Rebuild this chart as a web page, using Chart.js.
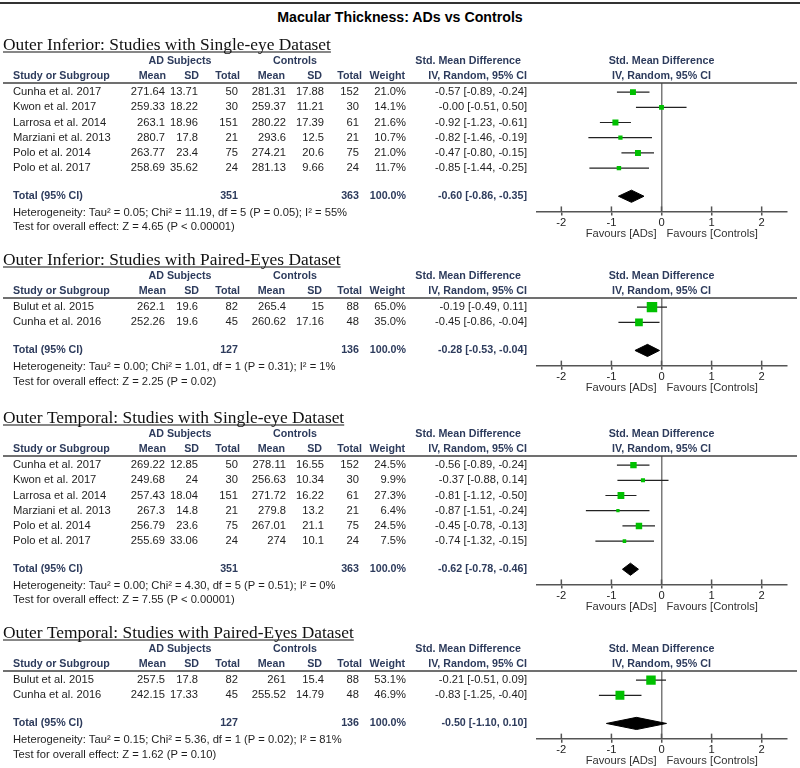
<!DOCTYPE html>
<html><head><meta charset="utf-8">
<script src="https://cdn.jsdelivr.net/npm/chart.js@4.4.1/dist/chart.umd.min.js"></script>
<style>
html,body{margin:0;padding:0;background:#fff;}
#wrap{position:relative;width:800px;height:768px;overflow:hidden;background:#fff;}
#wrap canvas{position:absolute;left:0;}
#topline{position:absolute;left:0;top:2px;width:800px;height:2px;background:#333;}
#title{position:absolute;left:0;top:9px;width:800px;text-align:center;font:bold 14.2px "Liberation Sans",Arial,sans-serif;line-height:16px;color:#000;}
</style></head><body>
<div id="wrap">
<div id="topline"></div>
<div id="title">Macular Thickness: ADs vs Controls</div>
<canvas id="c0" width="800" height="215" style="top:33px"></canvas>
<canvas id="c1" width="800" height="158" style="top:248px"></canvas>
<canvas id="c2" width="800" height="215" style="top:406px"></canvas>
<canvas id="c3" width="800" height="147" style="top:621px"></canvas>
</div>
<script>
// ---------------- DATA ----------------
const panelTitles = [
  'Outer Inferior: Studies with Single-eye Dataset',
  'Outer Inferior: Studies with Paired-Eyes Dataset',
  'Outer Temporal: Studies with Single-eye Dataset',
  'Outer Temporal: Studies with Paired-Eyes Dataset'
];

// Panel 1: Outer Inferior, single-eye
const studies1 = ['Cunha et al. 2017','Kwon et al. 2017','Larrosa et al. 2014','Marziani et al. 2013','Polo et al. 2014','Polo et al. 2017'];
const adMean1 = [271.64, 259.33, 263.1, 280.7, 263.77, 258.69];
const adSD1   = [13.71, 18.22, 18.96, 17.8, 23.4, 35.62];
const adN1    = [50, 30, 151, 21, 75, 24];
const ctMean1 = [281.31, 259.37, 280.22, 293.6, 274.21, 281.13];
const ctSD1   = [17.88, 11.21, 17.39, 12.5, 20.6, 9.66];
const ctN1    = [152, 30, 61, 21, 75, 24];
const weight1 = [21.0, 14.1, 21.6, 10.7, 21.0, 11.7];
const smd1    = [-0.57, -0.00, -0.92, -0.82, -0.47, -0.85];
const lo1     = [-0.89, -0.51, -1.23, -1.46, -0.80, -1.44];
const hi1     = [-0.24, 0.50, -0.61, -0.19, -0.15, -0.25];

// Panel 2: Outer Inferior, paired-eyes
const studies2 = ['Bulut et al. 2015','Cunha et al. 2016'];
const adMean2 = [262.1, 252.26];
const adSD2   = [19.6, 19.6];
const adN2    = [82, 45];
const ctMean2 = [265.4, 260.62];
const ctSD2   = [15, 17.16];
const ctN2    = [88, 48];
const weight2 = [65.0, 35.0];
const smd2    = [-0.19, -0.45];
const lo2     = [-0.49, -0.86];
const hi2     = [0.11, -0.04];

// Panel 3: Outer Temporal, single-eye
const studies3 = ['Cunha et al. 2017','Kwon et al. 2017','Larrosa et al. 2014','Marziani et al. 2013','Polo et al. 2014','Polo et al. 2017'];
const adMean3 = [269.22, 249.68, 257.43, 267.3, 256.79, 255.69];
const adSD3   = [12.85, 24, 18.04, 14.8, 23.6, 33.06];
const adN3    = [50, 30, 151, 21, 75, 24];
const ctMean3 = [278.11, 256.63, 271.72, 279.8, 267.01, 274];
const ctSD3   = [16.55, 10.34, 16.22, 13.2, 21.1, 10.1];
const ctN3    = [152, 30, 61, 21, 75, 24];
const weight3 = [24.5, 9.9, 27.3, 6.4, 24.5, 7.5];
const smd3    = [-0.56, -0.37, -0.81, -0.87, -0.45, -0.74];
const lo3     = [-0.89, -0.88, -1.12, -1.51, -0.78, -1.32];
const hi3     = [-0.24, 0.14, -0.50, -0.24, -0.13, -0.15];

// Panel 4: Outer Temporal, paired-eyes
const studies4 = ['Bulut et al. 2015','Cunha et al. 2016'];
const adMean4 = [257.5, 242.15];
const adSD4   = [17.8, 17.33];
const adN4    = [82, 45];
const ctMean4 = [261, 255.52];
const ctSD4   = [15.4, 14.79];
const ctN4    = [88, 48];
const weight4 = [53.1, 46.9];
const smd4    = [-0.21, -0.83];
const lo4     = [-0.51, -1.25];
const hi4     = [0.09, -0.40];

// Totals (per panel)
const totalAdN = [351, 127, 351, 127];
const totalCtN = [363, 136, 363, 136];
const totalSmd = [-0.60, -0.28, -0.62, -0.50];
const totalLo  = [-0.86, -0.53, -0.78, -1.10];
const totalHi  = [-0.35, -0.04, -0.46, 0.10];
const tau2     = [0.05, 0.00, 0.00, 0.15];
const chi2     = [11.19, 1.01, 4.30, 5.36];
const dfHet    = [5, 1, 5, 1];
const pHet     = [0.05, 0.31, 0.51, 0.02];
const i2       = [55, 1, 0, 81];
const zVal     = [4.65, 2.25, 7.55, 1.62];
const pZ       = ['< 0.00001', '= 0.02', '< 0.00001', '= 0.10'];

const xTicks = [-2, -1, 0, 1, 2];

// ---------------- BUILD ----------------
const panels = [
  {studies:studies1, adMean:adMean1, adSD:adSD1, adN:adN1, ctMean:ctMean1, ctSD:ctSD1, ctN:ctN1, weight:weight1, smd:smd1, lo:lo1, hi:hi1},
  {studies:studies2, adMean:adMean2, adSD:adSD2, adN:adN2, ctMean:ctMean2, ctSD:ctSD2, ctN:ctN2, weight:weight2, smd:smd2, lo:lo2, hi:hi2},
  {studies:studies3, adMean:adMean3, adSD:adSD3, adN:adN3, ctMean:ctMean3, ctSD:ctSD3, ctN:ctN3, weight:weight3, smd:smd3, lo:lo3, hi:hi3},
  {studies:studies4, adMean:adMean4, adSD:adSD4, adN:adN4, ctMean:ctMean4, ctSD:ctSD4, ctN:ctN4, weight:weight4, smd:smd4, lo:lo4, hi:hi4}
];

const FONT = '"Liberation Sans", Arial, sans-serif';
const HDR_COLOR = '#2d3b5c';
const TXT_COLOR = '#1e1e1e';
const ROW_PX = 15.2, TOP_ROWS = 0.6, TOTAL_OFF = 0.85, AXIS_OFF = 1.85, DIAMOND_HALF = 0.4;
const HEAD_SPACE = 50, AXIS_H = 24;

function fmt2(v){ return ((v < 0 || Object.is(v, -0)) ? '-' : '') + Math.abs(v).toFixed(2); }
function ciText(m, l, h){ return fmt2(m) + ' [' + fmt2(l) + ', ' + fmt2(h) + ']'; }

function tablePlugin(pi){
  const P = panels[pi];
  return {
    id: 'tbl' + pi,
    afterDraw(chart){
      const c = chart.ctx, ca = chart.chartArea, ys = chart.scales.y, xs = chart.scales.x;
      const L = ca.top, x0 = xs.getPixelForValue(0);
      c.save();
      // heading (serif, underlined)
      c.font = '17.4px "Liberation Serif","Times New Roman",serif';
      c.fillStyle = '#111'; c.textAlign = 'left'; c.textBaseline = 'alphabetic';
      const hb = L - 33;
      c.fillText(panelTitles[pi], 3, hb);
      c.fillRect(3, hb + 1.5, c.measureText(panelTitles[pi]).width, 1);
      // header rows
      c.font = 'bold 10.7px ' + FONT; c.fillStyle = HDR_COLOR; c.textBaseline = 'middle';
      c.textAlign = 'center';
      c.fillText('AD Subjects', 180, L - 22);
      c.fillText('Controls', 295, L - 22);
      c.fillText('Std. Mean Difference', x0, L - 22);
      c.fillText('IV, Random, 95% CI', x0, L - 7);
      c.textAlign = 'right';
      c.fillText('Std. Mean Difference', 521, L - 22);
      [['Mean',166],['SD',199],['Total',240],['Mean',285],['SD',322],['Total',362],['Weight',405],['IV, Random, 95% CI',527]]
        .forEach(([t, x]) => c.fillText(t, x, L - 7));
      c.textAlign = 'left';
      c.fillText('Study or Subgroup', 13, L - 7);
      // header rule
      c.strokeStyle = '#404040'; c.lineWidth = 1.5;
      c.beginPath(); c.moveTo(3, L); c.lineTo(797, L); c.stroke();
      // study rows
      c.font = '11.2px ' + FONT; c.fillStyle = TXT_COLOR;
      P.studies.forEach((s, i) => {
        const y = ys.getPixelForValue(i);
        c.textAlign = 'left'; c.fillText(s, 13, y);
        c.textAlign = 'right';
        c.fillText(String(P.adMean[i]), 165, y);
        c.fillText(String(P.adSD[i]), 198, y);
        c.fillText(String(P.adN[i]), 238, y);
        c.fillText(String(P.ctMean[i]), 286, y);
        c.fillText(String(P.ctSD[i]), 324, y);
        c.fillText(String(P.ctN[i]), 359, y);
        c.fillText(P.weight[i].toFixed(1) + '%', 406, y);
        c.fillText(ciText(P.smd[i], P.lo[i], P.hi[i]), 527, y);
      });
      // total row
      const yt = ys.getPixelForValue(P.studies.length - 1 + TOTAL_OFF + 1);
      c.font = 'bold 10.7px ' + FONT; c.fillStyle = HDR_COLOR;
      c.textAlign = 'left'; c.fillText('Total (95% CI)', 13, yt);
      c.textAlign = 'right';
      c.fillText(String(totalAdN[pi]), 238, yt);
      c.fillText(String(totalCtN[pi]), 359, yt);
      c.fillText('100.0%', 406, yt);
      c.fillText(ciText(totalSmd[pi], totalLo[pi], totalHi[pi]), 527, yt);
      // heterogeneity / overall effect
      c.font = '11.2px ' + FONT; c.fillStyle = TXT_COLOR; c.textAlign = 'left';
      c.fillText('Heterogeneity: Tau\u00B2 = ' + tau2[pi].toFixed(2) + '; Chi\u00B2 = ' + chi2[pi].toFixed(2) +
        ', df = ' + dfHet[pi] + ' (P = ' + pHet[pi].toFixed(2) + '); I\u00B2 = ' + i2[pi] + '%', 13, yt + 16.5);
      c.fillText('Test for overall effect: Z = ' + zVal[pi].toFixed(2) + ' (P ' + pZ[pi] + ')', 13, yt + 31);
      // favours labels
      c.fillStyle = '#333';
      c.textAlign = 'right'; c.fillText('Favours [ADs]', x0 - 5, ca.bottom + 22);
      c.textAlign = 'left'; c.fillText('Favours [Controls]', x0 + 5, ca.bottom + 22);
      // upper half of tick marks
      c.strokeStyle = '#555'; c.lineWidth = 1.5;
      xs.ticks.forEach(t => {
        const x = xs.getPixelForValue(t.value);
        c.beginPath(); c.moveTo(x, ca.bottom - 5); c.lineTo(x, ca.bottom); c.stroke();
      });
      c.restore();
    }
  };
}

function buildChart(pi){
  const P = panels[pi];
  const n = P.studies.length;
  const canvas = document.getElementById('c' + pi);
  const H = (n - 1 + AXIS_OFF + 1 + TOP_ROWS) * ROW_PX;
  const padBottom = canvas.height - HEAD_SPACE - H - AXIS_H;
  const tIdx = n - 1 + TOTAL_OFF + 1;
  const datasets = [];
  datasets.push({
    label: 'effects',
    data: P.smd.map((v, i) => ({x: v, y: i})),
    showLine: false,
    pointStyle: 'rect',
    pointRadius: ctx => (1.3 * Math.sqrt(P.weight[ctx.dataIndex])) / Math.SQRT2,
    pointHoverRadius: ctx => (1.3 * Math.sqrt(P.weight[ctx.dataIndex])) / Math.SQRT2,
    backgroundColor: '#00c000',
    borderWidth: 0,
    order: 0
  });
  P.smd.forEach((v, i) => {
    datasets.push({
      label: 'ci' + i,
      data: [{x: P.lo[i], y: i}, {x: P.hi[i], y: i}],
      showLine: true, pointRadius: 0, borderColor: '#222', borderWidth: 1.2, order: 1
    });
  });
  datasets.push({
    label: 'total',
    data: [
      {x: totalLo[pi], y: tIdx},
      {x: totalSmd[pi], y: tIdx - DIAMOND_HALF},
      {x: totalHi[pi], y: tIdx},
      {x: totalSmd[pi], y: tIdx + DIAMOND_HALF},
      {x: totalLo[pi], y: tIdx}
    ],
    showLine: true, pointRadius: 0, borderColor: '#000', borderWidth: 1,
    backgroundColor: '#000', fill: 'shape', tension: 0, order: 0
  });
  return new Chart(canvas, {
    type: 'scatter',
    data: {datasets},
    options: {
      responsive: false, animation: false, devicePixelRatio: 1,
      layout: {padding: {left: 536.3, right: 13.3, top: HEAD_SPACE, bottom: padBottom}},
      plugins: {legend: {display: false}, tooltip: {enabled: false}},
      scales: {
        x: {
          type: 'linear', min: -2.5, max: 2.5,
          afterBuildTicks: s => { s.ticks = xTicks.map(v => ({value: v})); },
          afterFit: s => { s.height = AXIS_H; },
          ticks: {color: '#222', font: {family: 'Liberation Sans', size: 11.2}, padding: 1, maxRotation: 0},
          grid: {
            color: ctx => (ctx.tick && ctx.tick.value === 0) ? '#7a7a7a' : 'rgba(0,0,0,0)',
            lineWidth: 1.5, drawOnChartArea: true, drawTicks: true,
            tickLength: 4, tickColor: '#555', tickWidth: 1.5
          },
          border: {display: true, color: '#555', width: 1.5}
        },
        y: {
          type: 'linear', reverse: true, display: false,
          min: -TOP_ROWS, max: n - 1 + AXIS_OFF + 1
        }
      }
    },
    plugins: [tablePlugin(pi)]
  });
}

[0, 1, 2, 3].forEach(buildChart);
</script>
</body></html>
